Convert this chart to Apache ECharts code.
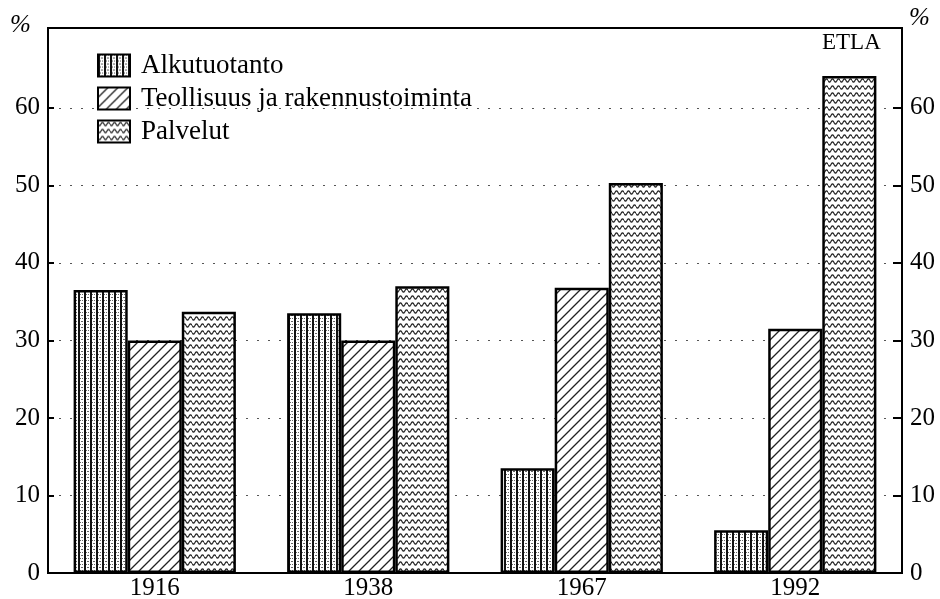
<!DOCTYPE html>
<html>
<head>
<meta charset="utf-8">
<script src="https://cdn.jsdelivr.net/npm/echarts@6/dist/echarts.min.js"></script>
<style>
  html, body { margin: 0; padding: 0; background: #fff; }
  #chart { width: 940px; height: 599px; }
</style>
</head>
<body>
<div id="chart"></div>
<script>
var years = ['1916', '1938', '1967', '1992'];
var alkutuotanto = [36.5, 33.5, 13.5, 5.5];
var teollisuus = [30.0, 30.0, 36.8, 31.5];
var palvelut = [33.7, 37.0, 50.3, 64.1];
var yTicks = [0, 10, 20, 30, 40, 50, 60];

// pattern tiles
function tile(w, h, draw) {
  var c = document.createElement('canvas');
  c.width = w; c.height = h;
  var ctx = c.getContext('2d');
  ctx.fillStyle = '#fff';
  ctx.fillRect(0, 0, w, h);
  draw(ctx);
  return { image: c, repeat: 'repeat' };
}

var gridPattern = tile(6, 6, function (ctx) {
  ctx.fillStyle = '#111';
  ctx.fillRect(0, 0, 2, 6);
  ctx.fillStyle = '#666';
  ctx.fillRect(2, 0, 1, 1);
  ctx.fillRect(4, 0, 1, 1);
  ctx.fillRect(3, 3, 2, 1);
});

var hatchPattern = tile(10, 10, function (ctx) {
  ctx.strokeStyle = '#222';
  ctx.lineWidth = 1.3;
  ctx.beginPath();
  ctx.moveTo(-1, 11); ctx.lineTo(11, -1);
  ctx.moveTo(-6, 6); ctx.lineTo(6, -6);
  ctx.moveTo(4, 16); ctx.lineTo(16, 4);
  ctx.stroke();
});

var wavePattern = tile(12, 7, function (ctx) {
  ctx.strokeStyle = '#222';
  ctx.lineWidth = 1.2;
  ctx.beginPath();
  for (var x = 0; x <= 12; x += 0.5) {
    var y = 3.5 + 1.6 * Math.sin(x / 12 * Math.PI * 4);
    if (x === 0) ctx.moveTo(x, y); else ctx.lineTo(x, y);
  }
  ctx.stroke();
});

var serif = '"Liberation Serif", "DejaVu Serif", serif';

function bar(name, data, pattern) {
  return {
    name: name,
    type: 'bar',
    data: data,
    barGap: '0%',
    barCategoryGap: '24%',
    itemStyle: { color: pattern, borderColor: '#000', borderWidth: 2.5 },
    emphasis: { disabled: true }
  };
}

function yAxisDef(pos, tickLen, split) {
  return {
    type: 'value',
    position: pos,
    min: 0,
    max: 70.3,
    interval: 10,
    axisLine: { show: true, lineStyle: { color: '#000', width: 2 } },
    axisTick: { show: true, inside: true, length: tickLen, customValues: yTicks, lineStyle: { color: '#000', width: 2 } },
    axisLabel: { customValues: yTicks, color: '#000', fontFamily: serif, fontSize: 25, margin: 8 },
    splitLine: split
  };
}

var chart = echarts.init(document.getElementById('chart'), null, { renderer: 'canvas' });
chart.setOption({
  animation: false,
  backgroundColor: '#fff',
  grid: {
    left: 48, right: 38, top: 28, bottom: 26,
    outerBoundsMode: 'none',
    show: true, borderColor: '#000', borderWidth: 2
  },
  legend: {
    left: 92, top: 47,
    orient: 'vertical',
    itemWidth: 32, itemHeight: 22,
    itemGap: 6,
    icon: 'rect',
    selectedMode: false,
    textStyle: { fontFamily: serif, fontSize: 27, lineHeight: 27, color: '#000', padding: [0, 0, 0, 6] },
    data: ['Alkutuotanto', 'Teollisuus ja rakennustoiminta', 'Palvelut']
  },
  xAxis: {
    type: 'category',
    data: years,
    axisLine: { lineStyle: { color: '#000', width: 2 } },
    axisTick: { show: false },
    axisLabel: { color: '#000', fontFamily: serif, fontSize: 25, margin: 3 }
  },
  yAxis: [
    yAxisDef('left', 6, { show: true, lineStyle: { color: '#555', type: [2, 9], width: 1.2 } }),
    yAxisDef('right', 9, { show: false })
  ],
  graphic: [
    { type: 'text', left: 10, top: 13, style: { text: '%', font: 'italic 25px ' + serif, fill: '#000' } },
    { type: 'text', left: 909, top: 6, style: { text: '%', font: 'italic 25px ' + serif, fill: '#000' } },
    { type: 'text', left: 822, top: 31, style: { text: 'ETLA', font: '23px ' + serif, fill: '#000' } }
  ],
  series: [
    bar('Alkutuotanto', alkutuotanto, gridPattern),
    bar('Teollisuus ja rakennustoiminta', teollisuus, hatchPattern),
    bar('Palvelut', palvelut, wavePattern)
  ]
});
</script>
</body>
</html>
